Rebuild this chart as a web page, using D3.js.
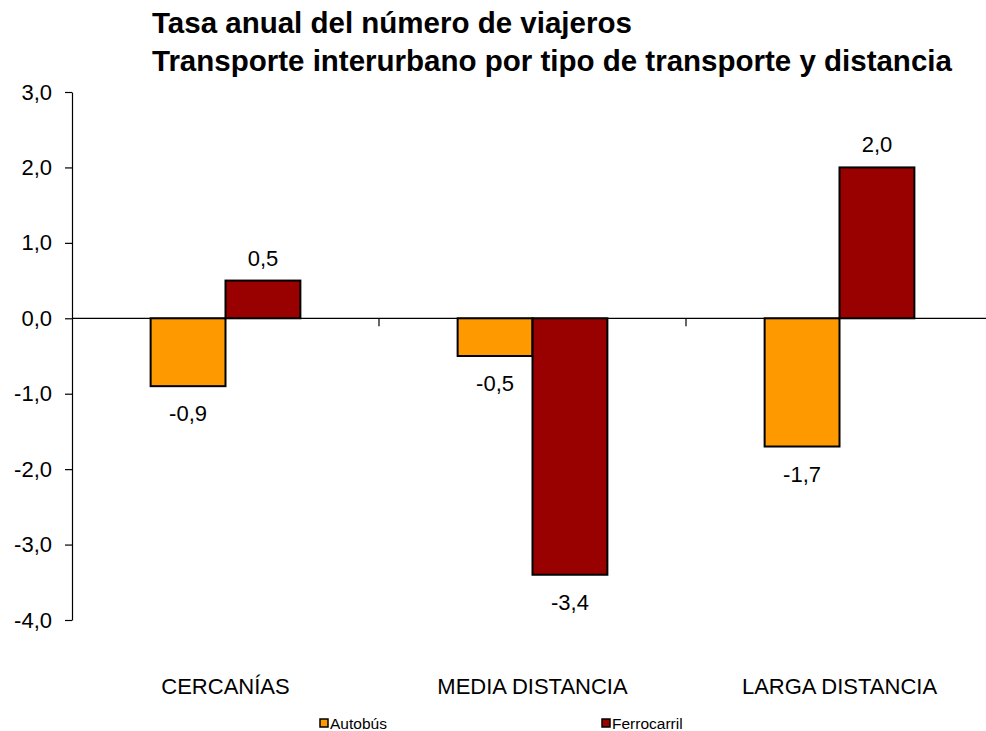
<!DOCTYPE html>
<html><head><meta charset="utf-8">
<script src="https://cdn.jsdelivr.net/npm/d3@7"></script>
<style>body{margin:0;background:#fff}svg{display:block}text{font-family:"Liberation Sans",Arial,sans-serif}</style>
</head><body><svg id="c" width="986" height="731"></svg>
<script>
const categories = ["CERCANÍAS", "MEDIA DISTANCIA", "LARGA DISTANCIA"];
const seriesNames = ["Autobús", "Ferrocarril"];
const autobus = [-0.9, -0.5, -1.7];
const ferrocarril = [0.5, -3.4, 2.0];
const yTicks = [3, 2, 1, 0, -1, -2, -3, -4];
const colors = ["#FF9900", "#990000"];
const titleLines = ["Tasa anual del número de viajeros", "Transporte interurbano por tipo de transporte y distancia"];

const svg = d3.select("#c");
const x0 = d3.scaleBand().domain(categories).range([72, 993]).paddingInner(0).paddingOuter(0);
const x1 = d3.scaleBand().domain(seriesNames).range([0, x0.bandwidth()]).paddingInner(0).paddingOuter(1.05);
const y = d3.scaleLinear().domain([-4, 3]).range([620, 92]);
const fmt = v => d3.format(".1f")(v).replace(".", ",").replace("−", "-");

// title
svg.append("g").selectAll("text").data(titleLines).join("text")
  .attr("x", 152).attr("y", (d, i) => 33 + i * 38)
  .style("font-size", "29.5px").attr("font-weight", "bold").attr("fill", "#000").text(d => d);

// y axis
const yAxis = d3.axisLeft(y).tickValues(yTicks).tickSize(7).tickSizeOuter(0).tickFormat(fmt);
const ga = svg.append("g").attr("transform", "translate(72,0)").call(yAxis);
ga.attr("font-family", null).attr("font-size", null);
ga.select(".domain").attr("stroke", "#000").attr("stroke-width", 1.2);
ga.selectAll(".tick line").attr("stroke", "#000").attr("stroke-width", 1.2);
ga.selectAll(".tick text").style("font-size", "22px").attr("fill", "#000").attr("x", -20);

// zero line with category ticks
svg.append("line").attr("x1", 72).attr("x2", 993).attr("y1", y(0)).attr("y2", y(0)).attr("stroke", "#000").attr("stroke-width", 1.2);
svg.append("g").selectAll("line").data(categories.slice(1)).join("line")
  .attr("x1", d => x0(d)).attr("x2", d => x0(d)).attr("y1", y(0)).attr("y2", y(0) + 8)
  .attr("stroke", "#000").attr("stroke-width", 1.2);

const data = categories.map((c, i) => ({ c, vals: [autobus[i], ferrocarril[i]] }));
const groups = svg.append("g").selectAll("g").data(data).join("g").attr("transform", d => `translate(${x0(d.c)},0)`);
groups.selectAll("rect").data(d => d.vals.map((v, j) => ({ v, s: seriesNames[j], j }))).join("rect")
  .attr("x", d => x1(d.s)).attr("width", x1.bandwidth())
  .attr("y", d => y(Math.max(0, d.v))).attr("height", d => Math.abs(y(d.v) - y(0)))
  .attr("fill", d => colors[d.j]).attr("stroke", "#000").attr("stroke-width", 2);
groups.selectAll("text").data(d => d.vals.map((v, j) => ({ v, s: seriesNames[j] }))).join("text")
  .attr("x", d => x1(d.s) + x1.bandwidth() / 2)
  .attr("y", d => d.v >= 0 ? y(d.v) - 15 : y(d.v) + 35)
  .attr("text-anchor", "middle").style("font-size", "22px").attr("fill", "#000").text(d => fmt(d.v));

// category labels
svg.append("g").selectAll("text").data(categories).join("text")
  .attr("x", d => x0(d) + x0.bandwidth() / 2).attr("y", 694)
  .attr("text-anchor", "middle").style("font-size", "22px").attr("fill", "#000").text(d => d);

// legend
const legX = [320, 602];
const lg = svg.append("g").selectAll("g").data(seriesNames).join("g").attr("transform", (d, i) => `translate(${legX[i]},719)`);
lg.append("rect").attr("width", 8).attr("height", 8).attr("fill", (d, i) => colors[i]).attr("stroke", "#000").attr("stroke-width", 1.5);
lg.append("text").attr("x", 10).attr("y", 9.5).style("font-size", "15.5px").attr("fill", "#000").text(d => d);
</script></body></html>
